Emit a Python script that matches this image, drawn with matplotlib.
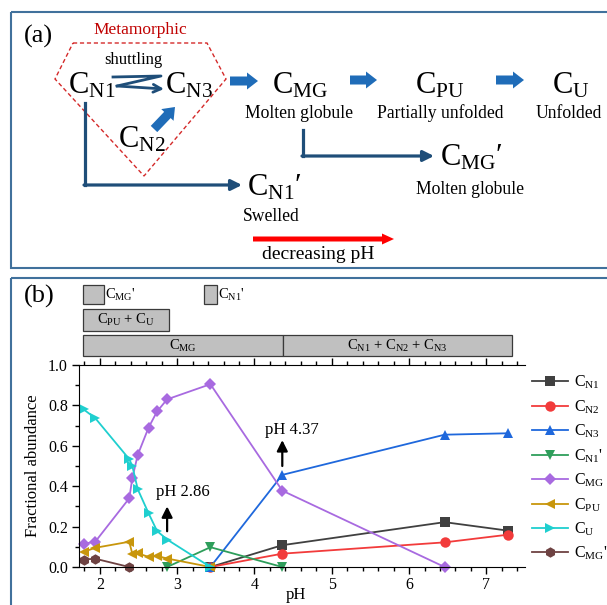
import matplotlib
matplotlib.use('Agg')
import matplotlib.pyplot as plt
from matplotlib.patches import Rectangle, Polygon, FancyArrow
from matplotlib.ticker import MultipleLocator, FormatStrFormatter

plt.rcParams['font.family'] = ['Liberation Serif', 'DejaVu Serif']
plt.rcParams['mathtext.fontset'] = 'custom'
plt.rcParams['mathtext.rm'] = 'Liberation Serif'
plt.rcParams['mathtext.it'] = 'Liberation Serif:italic'
plt.rcParams['mathtext.bf'] = 'Liberation Serif:bold'

# ---------------- data ----------------
ph_acid = [1.79, 1.94, 2.38, 2.42, 2.49, 2.63, 2.74, 2.87, 3.43]
ph_mg = ph_acid + [4.36, 6.46]
c_mg = [0.115, 0.125, 0.34, 0.44, 0.555, 0.69, 0.77, 0.83, 0.905, 0.378, 0.0]
c_u = [0.78, 0.737, 0.534, 0.50, 0.385, 0.266, 0.178, 0.136, 0.0]
c_pu = [0.075, 0.095, 0.125, 0.065, 0.068, 0.05, 0.055, 0.042, 0.0]
ph_mgp = [1.79, 1.94, 2.38]
c_mgp = [0.037, 0.041, 0.0]
ph_n1p = [2.87, 3.43, 4.36]
c_n1p = [0.0, 0.098, 0.0]
ph_native = [3.43, 4.36, 6.46, 7.28]
c_n1 = [0.0, 0.108, 0.222, 0.18]
c_n2 = [0.0, 0.066, 0.122, 0.16]
c_n3 = [0.0, 0.456, 0.655, 0.662]

series = [
    (r"C$_{\mathrm{N1}}$", ph_native, c_n1, '#404040', 's'),
    (r"C$_{\mathrm{N2}}$", ph_native, c_n2, '#f23b3b', 'o'),
    (r"C$_{\mathrm{N3}}$", ph_native, c_n3, '#1f68dc', '^'),
    (r"C$_{\mathrm{N1}}$'", ph_n1p, c_n1p, '#2e9e5b', 'v'),
    (r"C$_{\mathrm{MG}}$", ph_mg, c_mg, '#a86ae0', 'D'),
    (r"C$_{\mathrm{PU}}$", ph_acid, c_pu, '#c8960c', '<'),
    (r"C$_{\mathrm{U}}$", ph_acid, c_u, '#1fcfcf', '>'),
    (r"C$_{\mathrm{MG}}$'", ph_mgp, c_mgp, '#6e4242', 'h'),
]

# state ranges (label, start pH, end pH, row, label beside box)
state_labels = [r"C$_{\mathrm{MG}}$'", r"C$_{\mathrm{N1}}$'", r"C$_{\mathrm{PU}}$ + C$_{\mathrm{U}}$",
                r"C$_{\mathrm{MG}}$", r"C$_{\mathrm{N1}}$ + C$_{\mathrm{N2}}$ + C$_{\mathrm{N3}}$"]
state_start = [1.78, 3.345, 1.78, 1.78, 4.37]
state_end = [2.05, 3.51, 2.89, 4.37, 7.33]
state_row = [0, 0, 1, 2, 2]
state_beside = [True, True, False, False, False]

annot_ph = [2.87, 4.36]
annot_text = ['pH 2.86', 'pH 4.37']

W, H = 607, 605
fig = plt.figure(figsize=(W / 100, H / 100), dpi=100)


def fx(px):
    return px / W


def fy(py):
    return 1 - py / H


# ---------------- overlay (diagram, frames) ----------------
ov = fig.add_axes([0, 0, 1, 1])
ov.set_xlim(0, W)
ov.set_ylim(H, 0)
ov.axis('off')

frame_col = '#41719c'
ov.add_patch(Rectangle((10.7, 11.7), 620, 256.3, fill=False, ec=frame_col, lw=1.5, clip_on=False))
ov.add_patch(Rectangle((10.7, 277.5), 620, 340, fill=False, ec=frame_col, lw=1.5, clip_on=False))

ov.text(38, 36, '(a)', fontsize=19, ha='center', va='center')
ov.text(39, 296, '(b)', fontsize=19, ha='center', va='center')

navy = '#1f4e79'
blue = '#1f6cb8'

ov.add_patch(Polygon([(73, 43), (207, 43), (226, 79), (144, 176), (55, 79)], closed=True,
                     fill=False, ec='#d42a2a', lw=1.0, ls=(0, (3, 2))))
ov.text(140, 34, 'Metamorphic', fontsize=12.5, color='#c00000', ha='center', va='baseline')
ov.text(133, 64, 'shuttling', fontsize=12, ha='center', va='baseline')

big = 22
ov.text(68, 94, r"C$_{\mathrm{N1}}$", fontsize=big, ha='left', va='baseline')
ov.text(165, 94, r"C$_{\mathrm{N3}}$", fontsize=big, ha='left', va='baseline')
ov.text(118, 148, r"C$_{\mathrm{N2}}$", fontsize=big, ha='left', va='baseline')
ov.text(272, 94, r"C$_{\mathrm{MG}}$", fontsize=big, ha='left', va='baseline')
ov.text(415, 94, r"C$_{\mathrm{PU}}$", fontsize=big, ha='left', va='baseline')
ov.text(552, 94, r"C$_{\mathrm{U}}$", fontsize=big, ha='left', va='baseline')
ov.text(247, 195, r"C$_{\mathrm{N1}}$′", fontsize=big, ha='left', va='baseline')
ov.text(440, 165, r"C$_{\mathrm{MG}}$′", fontsize=big, ha='left', va='baseline')

lab = 12.7
ov.text(299, 118, 'Molten globule', fontsize=lab, ha='center', va='baseline')
ov.text(440, 118, 'Partially unfolded', fontsize=lab, ha='center', va='baseline')
ov.text(569, 118, 'Unfolded', fontsize=lab, ha='center', va='baseline')
ov.text(271, 221, 'Swelled', fontsize=lab, ha='center', va='baseline')
ov.text(470, 194, 'Molten globule', fontsize=lab, ha='center', va='baseline')
ov.text(318, 259, 'decreasing pH', fontsize=14, ha='center', va='baseline')

# shuttling zigzag
ov.plot([113, 161, 117], [77, 76, 86], color=navy, lw=2.0, solid_joinstyle='round')
ov.annotate('', xy=(164, 89), xytext=(117, 86),
            arrowprops=dict(arrowstyle='->', lw=2.0, color=navy, mutation_scale=14,
                            shrinkA=0, shrinkB=0))

# block arrows
for x0, x1, yc in [(230, 258, 81), (350, 377, 80), (496, 524, 80)]:
    ov.add_patch(FancyArrow(x0, yc, x1 - x0, 0, width=9, head_width=17, head_length=11,
                            length_includes_head=True, color=blue, lw=0))
ov.add_patch(FancyArrow(154, 129, 21, -22, width=9, head_width=17, head_length=11,
                        length_includes_head=True, color=blue, lw=0))

# L-shaped navy arrows
ov.plot([85, 85], [103, 185], color=navy, lw=2.3, solid_capstyle='projecting')
ov.annotate('', xy=(242, 185), xytext=(84, 185),
            arrowprops=dict(arrowstyle='-|>', lw=2.3, color=navy, mutation_scale=16,
                            shrinkA=0, shrinkB=0))
ov.plot([303, 303], [130, 156], color=navy, lw=2.3, solid_capstyle='projecting')
ov.annotate('', xy=(434, 156), xytext=(302, 156),
            arrowprops=dict(arrowstyle='-|>', lw=2.3, color=navy, mutation_scale=16,
                            shrinkA=0, shrinkB=0))

# red arrow
ov.add_patch(FancyArrow(253, 239, 141, 0, width=5, head_width=11, head_length=12,
                        length_includes_head=True, color='#ff0000', lw=0))

# ---------------- main plot ----------------
ax = fig.add_axes([fx(79), fy(567), fx(525) - fx(79), (567 - 365) / H])
for name, xs, ys, col, mk in series:
    ax.plot(xs, ys, color=col, marker=mk, markersize=7.5 if mk != 'D' else 6.5,
            lw=1.3, label=name, markeredgewidth=0, clip_on=False)

ax.set_xlim(1.73, 7.5)
ax.set_ylim(0, 1.0)
ax.xaxis.set_major_locator(MultipleLocator(1))
ax.xaxis.set_minor_locator(MultipleLocator(0.2))
ax.yaxis.set_major_locator(MultipleLocator(0.2))
ax.yaxis.set_minor_locator(MultipleLocator(0.1))
ax.yaxis.set_major_formatter(FormatStrFormatter('%.1f'))
ax.spines['right'].set_visible(False)
ax.tick_params(which='both', direction='out', top=True, right=False, labelsize=11.5)
ax.tick_params(which='major', length=5, width=1)
ax.tick_params(which='minor', length=3, width=1)
ax.tick_params(axis='x', pad=2)
ax.tick_params(axis='y', pad=3)

ax.set_xlabel('pH', fontsize=12)
ax.xaxis.set_label_coords((296 - 79) / 446, -(587 - 567) / 202)
ax.set_ylabel('Fractional abundance', fontsize=12)
ax.yaxis.set_label_coords((41 - 79) / 446, 0.5)

# annotations
ax.annotate('', xy=(annot_ph[0], 0.30), xytext=(annot_ph[0], 0.177),
            arrowprops=dict(arrowstyle='-|>', color='black', lw=1.6, mutation_scale=16,
                            shrinkA=0, shrinkB=0))
ax.text(3.07, 0.37, annot_text[0], fontsize=12, ha='center', va='center')
ax.annotate('', xy=(annot_ph[1], 0.628), xytext=(annot_ph[1], 0.50),
            arrowprops=dict(arrowstyle='-|>', color='black', lw=1.6, mutation_scale=16,
                            shrinkA=0, shrinkB=0))
ax.text(4.48, 0.68, annot_text[1], fontsize=12, ha='center', va='center')

ax.legend(loc='upper left', bbox_to_anchor=(fx(532), fy(374)), bbox_transform=fig.transFigure,
          frameon=False, fontsize=11.5, borderpad=0, borderaxespad=0,
          handlelength=2.25, handletextpad=0.37, labelspacing=0.44)

# ---------------- state bars ----------------
axb = fig.add_axes([fx(79), fy(360), fx(525) - fx(79), 82 / H], sharex=ax)
axb.set_ylim(360, 278)
axb.axis('off')
row_top = [285, 309, 335]
row_bot = [304, 331, 356]
for lbl, s, e, r, beside in zip(state_labels, state_start, state_end, state_row, state_beside):
    t, b = row_top[r], row_bot[r]
    axb.add_patch(Rectangle((s, t), e - s, b - t, fc='#c0c0c0', ec='#3a3a3a', lw=0.9))
    if beside:
        axb.text(e + 0.02, (t + b) / 2, lbl, fontsize=10.5, ha='left', va='center')
    else:
        axb.text((s + e) / 2, (t + b) / 2, lbl, fontsize=10.5, ha='center', va='center')

fig.savefig('out.png', dpi=100)
